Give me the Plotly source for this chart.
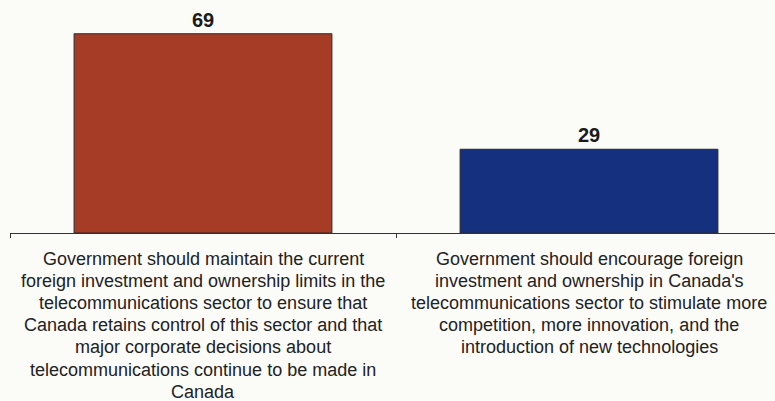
import plotly.graph_objects as go

# Survey result: share of respondents agreeing with each statement
values = [69, 29]
bar_colors = ["#A63B26", "#14307E"]
category_lines = [
    [
        "Government should maintain the current",
        "foreign investment and ownership limits in the",
        "telecommunications sector to ensure that",
        "Canada retains control of this sector and that",
        "major corporate decisions about",
        "telecommunications continue to be made in",
        "Canada",
    ],
    [
        "Government should encourage foreign",
        "investment and ownership in Canada's",
        "telecommunications sector to stimulate more",
        "competition, more innovation, and the",
        "introduction of new technologies",
    ],
]
positions = [0, 1]

W, H = 775, 401
plot_left, plot_right = 10, 775
plot_top, plot_bottom = 2, 233
y_max = 80
cat_px = 386  # width of one category slot in pixels

fig = go.Figure()
fig.add_trace(
    go.Bar(
        x=positions,
        y=values,
        width=0.668,
        marker=dict(color=bar_colors, line=dict(color="#2a2a2a", width=1)),
        text=[str(v) for v in values],
        textposition="outside",
        cliponaxis=False,
        textfont=dict(family="Liberation Sans, Arial, sans-serif", size=20, color="#1a1a1a"),
        texttemplate="<b>%{text}</b>",
        hoverinfo="skip",
    )
)

# multi-line category labels under the axis
line_gap = 22.1
first_line_offset = 26.0
annotations = []
for pos, lines in zip(positions, category_lines):
    for i, line in enumerate(lines):
        ypx = plot_bottom + first_line_offset + i * line_gap
        annotations.append(
            dict(
                x=pos,
                xref="x",
                y=(H - ypx - (H - plot_bottom)) / (plot_bottom - plot_top),
                yref="paper",
                text=line,
                showarrow=False,
                xanchor="center",
                yanchor="middle",
                font=dict(family="Liberation Sans, Arial, sans-serif", size=18, color="#222222"),
            )
        )

x_span = (plot_right - plot_left) / cat_px
fig.update_layout(
    width=W,
    height=H,
    margin=dict(l=plot_left, r=W - plot_right, t=plot_top, b=H - plot_bottom, pad=0),
    paper_bgcolor="#FBFBF8",
    plot_bgcolor="#FBFBF8",
    showlegend=False,
    annotations=annotations,
    xaxis=dict(
        range=[-0.5, -0.5 + x_span],
        tickvals=[-0.5, 0.5, 1.5],
        ticktext=["", "", ""],
        ticks="outside",
        ticklen=4,
        tickcolor="#333333",
        showline=True,
        linecolor="#333333",
        linewidth=1,
        showgrid=False,
        zeroline=False,
    ),
    yaxis=dict(
        range=[0, y_max],
        visible=False,
        showgrid=False,
        zeroline=False,
    ),
)

fig.write_html("out.html")
